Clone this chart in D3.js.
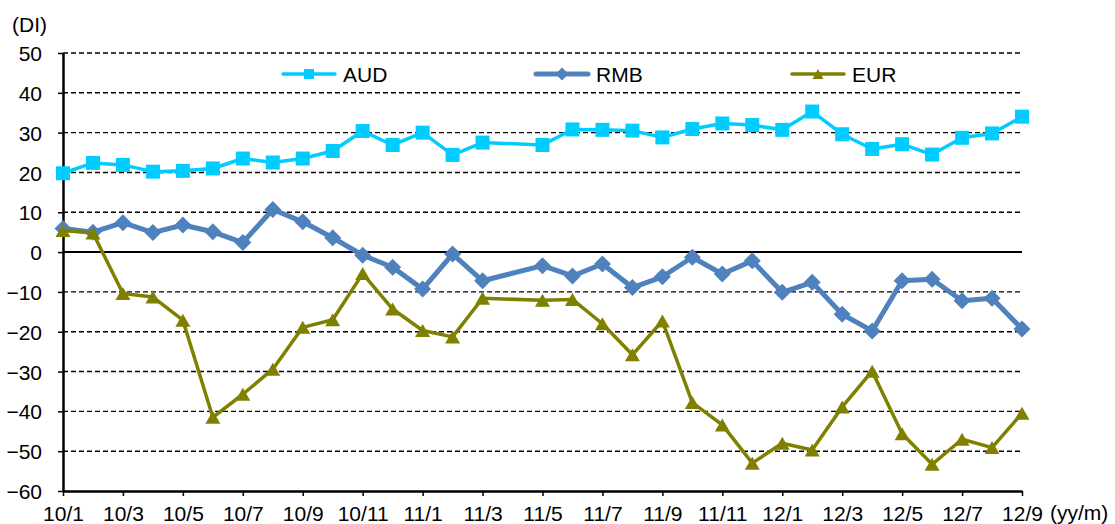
<!DOCTYPE html>
<html>
<head>
<meta charset="utf-8">
<script src="https://cdn.jsdelivr.net/npm/d3@7"></script>
<style>
  html, body { margin: 0; padding: 0; background: #fff; }
  svg { display: block; font-family: "Liberation Sans", Arial, sans-serif; }
</style>
</head>
<body>
<svg id="chart" width="1115" height="524"></svg>
<script>
// Monthly DI readings, Jan 2010 – Sep 2012 (no survey in 2011/4)
const months = [
  "10/1","10/2","10/3","10/4","10/5","10/6","10/7","10/8","10/9","10/10","10/11","10/12",
  "11/1","11/2","11/3","11/4","11/5","11/6","11/7","11/8","11/9","11/10","11/11","11/12",
  "12/1","12/2","12/3","12/4","12/5","12/6","12/7","12/8","12/9"
];
const aud = [19.8,22.4,21.9,20.2,20.4,21.0,23.5,22.5,23.5,25.4,30.4,26.9,
             30.0,24.4,27.5,null,26.9,30.8,30.7,30.5,28.8,30.9,32.3,31.9,
             30.7,35.3,29.6,25.9,27.1,24.5,28.7,29.8,34.0];
const rmb = [5.9,5.0,7.4,4.9,6.8,5.1,2.4,10.7,7.6,3.6,-0.8,-3.8,
             -9.3,-0.5,-7.2,null,-3.4,-6.0,-3.0,-8.9,-6.2,-1.3,-5.5,-2.2,
             -10.1,-7.6,-15.6,-19.8,-7.2,-6.8,-12.2,-11.6,-19.3];
const eur = [5.4,4.8,-10.4,-11.3,-17.1,-41.5,-35.7,-29.4,-18.9,-17.0,-5.4,-14.3,
             -19.7,-21.3,-11.6,null,-12.1,-11.9,-18.0,-25.8,-17.3,-37.8,-43.4,-53.0,
             -48.0,-49.7,-38.9,-29.9,-45.6,-53.3,-47.0,-49.1,-40.5];
const xTickLabels = ["10/1","10/3","10/5","10/7","10/9","10/11",
                     "11/1","11/3","11/5","11/7","11/9","11/11",
                     "12/1","12/3","12/5","12/7","12/9"];
const yTicks = [50,40,30,20,10,0,-10,-20,-30,-40,-50,-60];
const seriesNames = ["AUD","RMB","EUR"];

const svg = d3.select("#chart");
const plotLeft = 63, plotRight = 1022, plotTop = 53, plotBottom = 491;
const fontSize = 21;

const x = d3.scalePoint().domain(months).range([plotLeft, plotRight]);
const y = d3.scaleLinear().domain([-60, 50]).range([plotBottom, plotTop]);

// horizontal grid: dashed, with a solid zero line
svg.append("g").selectAll("line")
  .data(yTicks.filter(v => v !== -60))
  .join("line")
  .attr("x1", plotLeft).attr("x2", plotRight)
  .attr("y1", d => y(d)).attr("y2", d => y(d))
  .attr("stroke", "#000")
  .attr("stroke-width", d => d === 0 ? 2 : 1.4)
  .attr("stroke-dasharray", d => d === 0 ? null : "5,3");

// y axis
const yAxis = svg.append("g")
  .attr("transform", `translate(${plotLeft},0)`)
  .call(d3.axisLeft(y).tickValues(yTicks).tickSize(5).tickSizeOuter(0).tickPadding(16));
yAxis.select(".domain").attr("stroke", "#000").attr("stroke-width", 2.5);
yAxis.selectAll(".tick line").attr("stroke", "#000").attr("stroke-width", 1.5);
yAxis.selectAll(".tick text")
  .attr("font-size", fontSize).attr("fill", "#000")
  .attr("font-family", "Liberation Sans, Arial, sans-serif")
  .attr("dy", "0.36em");

// x axis
const xAxis = svg.append("g")
  .attr("transform", `translate(0,${plotBottom})`)
  .call(d3.axisBottom(x).tickValues(xTickLabels).tickSize(5).tickSizeOuter(0).tickPadding(10));
xAxis.select(".domain").attr("stroke", "#000").attr("stroke-width", 2.5);
xAxis.selectAll(".tick line").attr("stroke", "#000").attr("stroke-width", 1.5);
xAxis.selectAll(".tick text")
  .attr("font-size", fontSize).attr("fill", "#000")
  .attr("font-family", "Liberation Sans, Arial, sans-serif");

// unit labels
svg.append("text").attr("x", 12).attr("y", 32)
  .attr("font-size", fontSize).text("(DI)");
svg.append("text").attr("x", 1050).attr("y", 520)
  .attr("font-size", fontSize).text("(yy/m)");

// marker shapes
const squarePath = s => `M${-s/2},${-s/2}h${s}v${s}h${-s}Z`;
const diamondPath = s => `M0,${-s/2}L${s/2},0L0,${s/2}L${-s/2},0Z`;
const trianglePath = (w, h) => `M0,${-h/2}L${w/2},${h/2}L${-w/2},${h/2}Z`;

const series = [
  { name: seriesNames[0], values: aud, color: "#00CCFF", width: 3.5, marker: squarePath(14), legendMarker: squarePath(10) },
  { name: seriesNames[1], values: rmb, color: "#4F81BD", width: 5,   marker: diamondPath(17), legendMarker: diamondPath(13) },
  { name: seriesNames[2], values: eur, color: "#808000", width: 3.5, marker: trianglePath(15, 13), legendMarker: trianglePath(11, 10) }
];

const line = d3.line().x(d => x(d.m)).y(d => y(d.v));

series.forEach(s => {
  const pts = months.map((m, i) => ({ m, v: s.values[i] })).filter(d => d.v !== null);
  const g = svg.append("g");
  g.append("path").datum(pts)
    .attr("d", line)
    .attr("fill", "none")
    .attr("stroke", s.color)
    .attr("stroke-width", s.width)
    .attr("stroke-linejoin", "round");
  g.selectAll("path.mk").data(pts).join("path")
    .attr("class", "mk")
    .attr("d", s.marker)
    .attr("transform", d => `translate(${x(d.m)},${y(d.v)})`)
    .attr("fill", s.color);
});

// legend
const legendX = [283, 536, 792];
const legendY = 74;
series.forEach((s, i) => {
  const g = svg.append("g").attr("transform", `translate(${legendX[i]},${legendY})`);
  g.append("line").attr("x1", 0).attr("x2", 52).attr("y1", 0).attr("y2", 0)
    .attr("stroke", s.color).attr("stroke-width", s.width).attr("stroke-linecap", "round");
  g.append("path").attr("d", s.legendMarker).attr("transform", "translate(26,0)").attr("fill", s.color);
  g.append("text").attr("x", 60).attr("y", 0).attr("dy", "0.36em")
    .attr("font-size", fontSize).attr("fill", "#000").text(s.name);
});
</script>
</body>
</html>
